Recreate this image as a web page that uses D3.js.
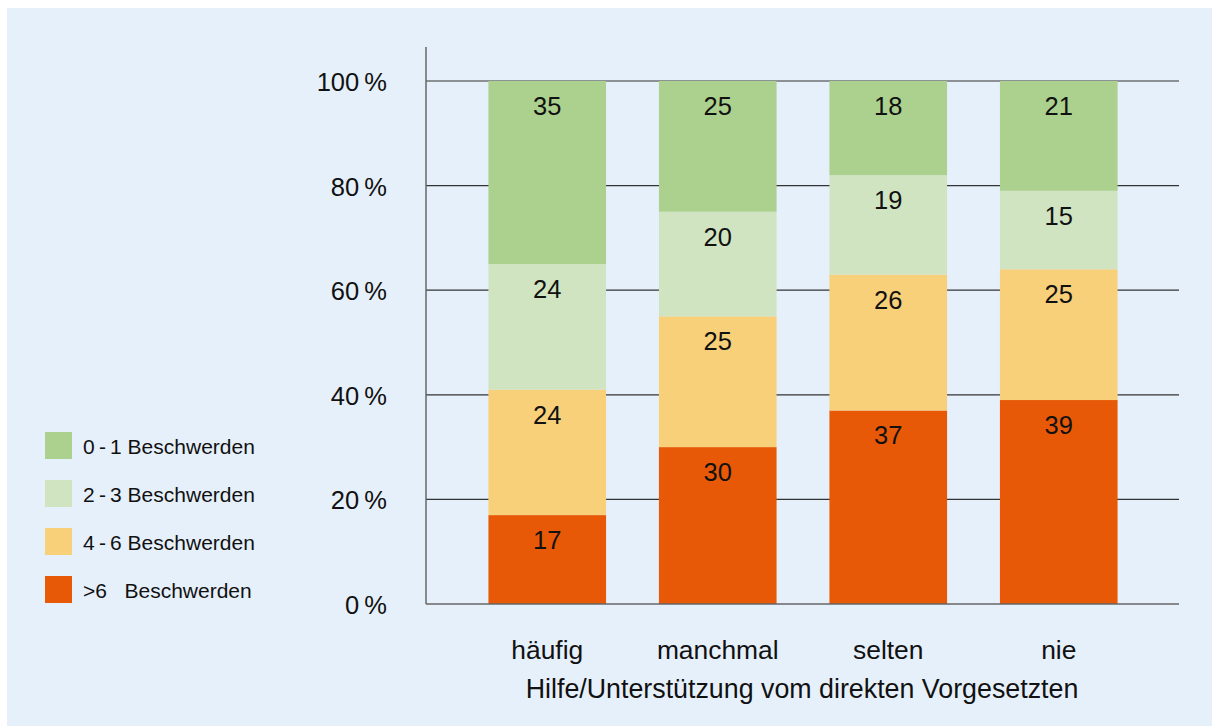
<!DOCTYPE html>
<html>
<head>
<meta charset="utf-8">
<script src="https://cdn.jsdelivr.net/npm/d3@7"></script>
<style>
  body { margin: 0; background: #fff; }
  svg text { font-family: "Liberation Sans", Arial, sans-serif; fill: #111; white-space: pre; }
</style>
</head>
<body>
<svg width="1212" height="726"></svg>
<script>
// data
var categories = ["häufig", "manchmal", "selten", "nie"];
var seriesNames = ["gt6", "b46", "b23", "b01"]; // bottom to top
var seriesLabels = [">6   Beschwerden", "4\u2009-\u20096 Beschwerden", "2\u2009-\u20093 Beschwerden", "0\u2009-\u20091 Beschwerden"];
var gt6 = [17, 30, 37, 39];
var b46 = [24, 25, 26, 25];
var b23 = [24, 20, 19, 15];
var b01 = [35, 25, 18, 21];
var yTicks = [0, 20, 40, 60, 80, 100];
var colors = ["#e85907", "#f8d07a", "#d0e4c2", "#acd18e"];

var svg = d3.select("svg");

svg.append("rect")
	.attr("x", 7).attr("y", 8)
	.attr("width", 1205).attr("height", 718)
	.attr("fill", "#e6f0fb");

var table = categories.map(function(c, i) {
	return { cat: c, gt6: gt6[i], b46: b46[i], b23: b23[i], b01: b01[i] };
});
var stacked = d3.stack().keys(seriesNames)(table);

var x = d3.scaleBand().domain(categories).range([462, 1144]).paddingInner(0.31).paddingOuter(0.155);
var y = d3.scaleLinear().domain([0, 100]).range([604, 81]);

// gridlines
svg.append("g").selectAll("line")
	.data(yTicks.filter(function(d) { return d > 0; }))
	.enter().append("line")
		.attr("x1", 426).attr("x2", 1179)
		.attr("y1", function(d) { return y(d); })
		.attr("y2", function(d) { return y(d); })
		.attr("stroke", "#333").attr("stroke-width", 1.2);

// bars
var layer = svg.append("g").selectAll("g")
	.data(stacked)
	.enter().append("g")
		.attr("fill", function(d, i) { return colors[i]; });

layer.selectAll("rect")
	.data(function(d) { return d; })
	.enter().append("rect")
		.attr("x", function(d) { return x(d.data.cat); })
		.attr("y", function(d) { return y(d[1]); })
		.attr("height", function(d) { return y(d[0]) - y(d[1]); })
		.attr("width", x.bandwidth());

layer.selectAll("text")
	.data(function(d) { return d; })
	.enter().append("text")
		.attr("x", function(d) { return x(d.data.cat) + x.bandwidth() / 2; })
		.attr("y", function(d) { return y(d[1]) + 34; })
		.attr("text-anchor", "middle")
		.attr("font-size", 25.5)
		.text(function(d) { return d[1] - d[0]; });

// axes lines
svg.append("line")
	.attr("x1", 426).attr("x2", 426).attr("y1", 47).attr("y2", 604)
	.attr("stroke", "#666").attr("stroke-width", 1.5);
svg.append("line")
	.attr("x1", 426).attr("x2", 1179).attr("y1", 604).attr("y2", 604)
	.attr("stroke", "#666").attr("stroke-width", 1.5);

// y tick labels
svg.append("g").selectAll("text")
	.data(yTicks)
	.enter().append("text")
		.attr("x", 387)
		.attr("y", function(d) { return y(d) + 10; })
		.attr("text-anchor", "end")
		.attr("font-size", 25.5)
		.text(function(d) { return d + "\u2009%"; });

// category labels
svg.append("g").selectAll("text")
	.data(categories)
	.enter().append("text")
		.attr("x", function(d) { return x(d) + x.bandwidth() / 2; })
		.attr("y", 659)
		.attr("text-anchor", "middle")
		.attr("font-size", 26.4)
		.text(function(d) { return d; });

svg.append("text")
	.attr("x", 802).attr("y", 698)
	.attr("text-anchor", "middle")
	.attr("font-size", 26.8)
	.text("Hilfe/Unterstützung vom direkten Vorgesetzten");

// legend (top to bottom: 0-1 first)
var legendOrder = [3, 2, 1, 0];
var legend = svg.append("g").selectAll("g")
	.data(legendOrder)
	.enter().append("g")
		.attr("transform", function(d, i) { return "translate(45," + (432 + i * 48) + ")"; });
legend.append("rect")
	.attr("width", 27).attr("height", 27)
	.attr("fill", function(d) { return colors[d]; });
legend.append("text")
	.attr("x", 38).attr("y", 22)
	.attr("font-size", 21)
	.text(function(d) { return seriesLabels[d]; });
</script>
</body>
</html>
